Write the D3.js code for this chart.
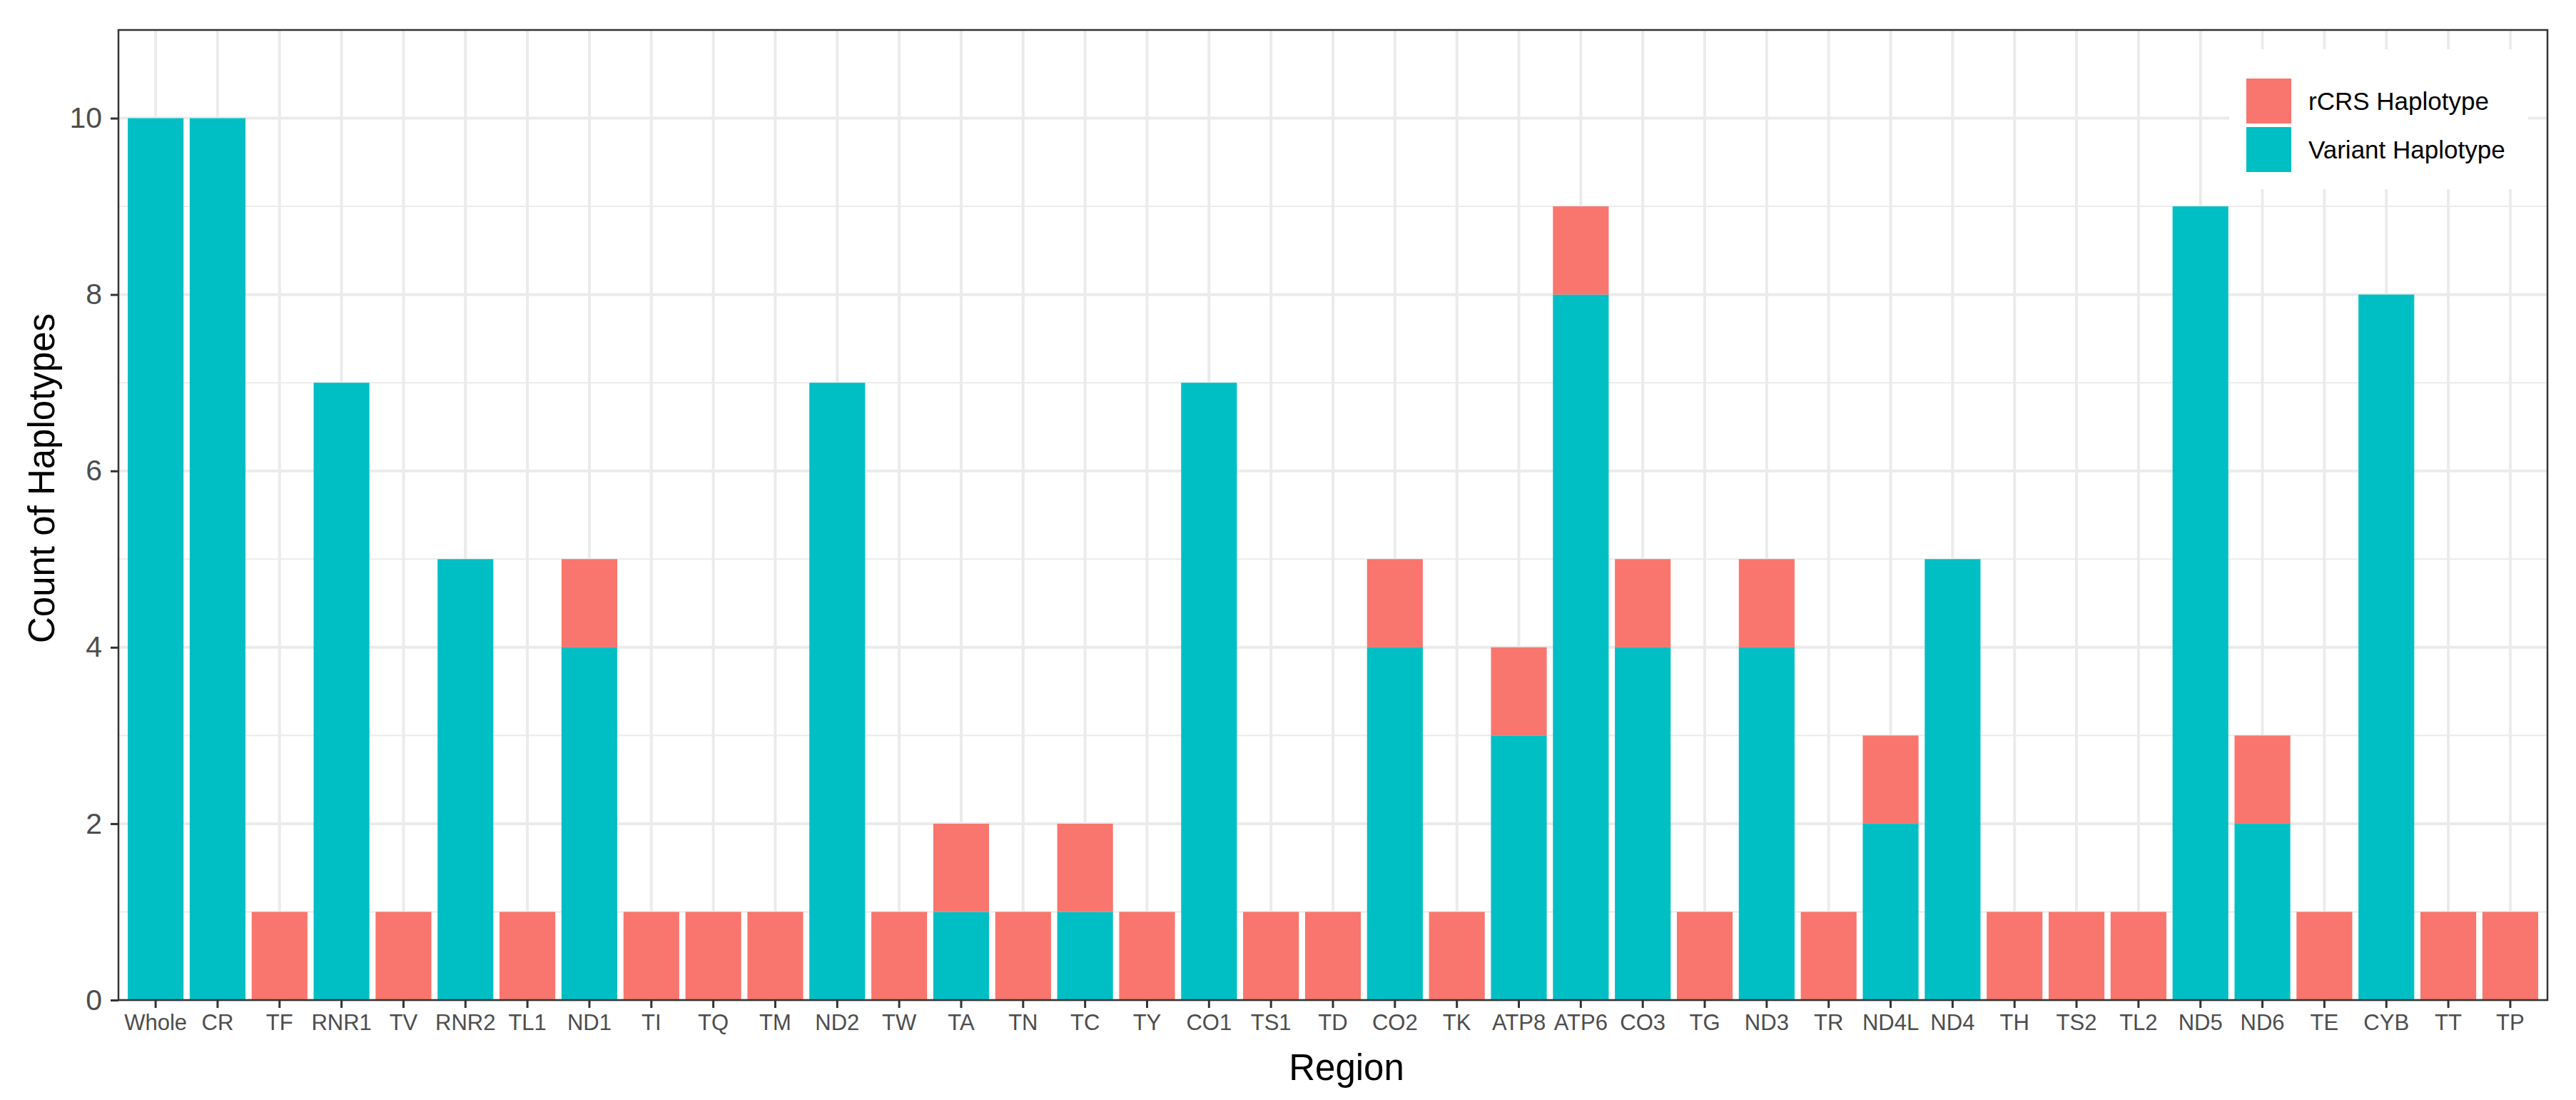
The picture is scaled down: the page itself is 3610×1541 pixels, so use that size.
<!DOCTYPE html>
<html>
<head>
<meta charset="utf-8">
<script src="https://cdn.jsdelivr.net/npm/d3@7"></script>
<style>
  html, body { margin: 0; padding: 0; background: #ffffff; }
  svg { display: block; font-family: "Liberation Sans", Arial, sans-serif; }
</style>
</head>
<body>
<svg id="chart" width="3610" height="1541"></svg>
<script>
const regions = ["Whole","CR","TF","RNR1","TV","RNR2","TL1","ND1","TI","TQ","TM","ND2","TW","TA","TN","TC","TY","CO1","TS1","TD","CO2","TK","ATP8","ATP6","CO3","TG","ND3","TR","ND4L","ND4","TH","TS2","TL2","ND5","ND6","TE","CYB","TT","TP"];
const variantCounts = [10,10,0,7,0,5,0,4,0,0,0,7,0,1,0,1,0,7,0,0,4,0,3,8,4,0,4,0,2,5,0,0,0,9,2,0,8,0,0];
const rcrsCounts    = [0,0,1,0,1,0,1,1,1,1,1,0,1,1,1,1,1,0,1,1,1,1,1,1,1,1,1,1,1,0,1,1,1,0,1,1,0,1,1];
const seriesKeys = ["variant","rcrs"];
const seriesLabels = {rcrs: "rCRS Haplotype", variant: "Variant Haplotype"};
const legendOrder = ["rcrs","variant"];
const seriesColors = {rcrs: "#F8766D", variant: "#00BFC4"};
const yMajorTicks = [0,2,4,6,8,10];
const yMinorTicks = [1,3,5,7,9];
const yTitle = "Count of Haplotypes";
const xTitle = "Region";

const svg = d3.select("#chart");
const panel = {left: 166, right: 3570, top: 42, bottom: 1401};

const x = d3.scaleBand().domain(regions).range([panel.left, panel.right])
  .paddingInner(0.1).paddingOuter(0.15);
const y = d3.scaleLinear().domain([0, 11]).range([panel.bottom, panel.top]);

const rows = regions.map((r, i) => ({region: r, variant: variantCounts[i], rcrs: rcrsCounts[i]}));
const stacked = d3.stack().keys(seriesKeys)(rows);

// panel background
svg.append("rect").attr("x", panel.left).attr("y", panel.top)
  .attr("width", panel.right - panel.left).attr("height", panel.bottom - panel.top)
  .attr("fill", "#ffffff");

const grid = svg.append("g");
grid.selectAll("line.minor").data(yMinorTicks).join("line")
  .attr("x1", panel.left).attr("x2", panel.right)
  .attr("y1", d => y(d)).attr("y2", d => y(d))
  .attr("stroke", "#EBEBEB").attr("stroke-width", 2);
grid.selectAll("line.majory").data(yMajorTicks).join("line")
  .attr("x1", panel.left).attr("x2", panel.right)
  .attr("y1", d => y(d)).attr("y2", d => y(d))
  .attr("stroke", "#EBEBEB").attr("stroke-width", 4);
grid.selectAll("line.majorx").data(regions).join("line")
  .attr("y1", panel.top).attr("y2", panel.bottom)
  .attr("x1", d => x(d) + x.bandwidth() / 2).attr("x2", d => x(d) + x.bandwidth() / 2)
  .attr("stroke", "#EBEBEB").attr("stroke-width", 4);

// bars
svg.append("g").selectAll("g").data(stacked).join("g")
  .attr("fill", d => seriesColors[d.key])
  .selectAll("rect").data(d => d.filter(p => p[1] > p[0])).join("rect")
  .attr("x", d => x(d.data.region))
  .attr("width", x.bandwidth())
  .attr("y", d => y(d[1]))
  .attr("height", d => y(d[0]) - y(d[1]));

// legend (inside panel)
const lg = svg.append("g");
lg.append("rect").attr("x", 3124).attr("y", 69).attr("width", 419).attr("height", 196).attr("fill", "#ffffff");
legendOrder.forEach((k, i) => {
  const ky = 110 + i * 68;
  lg.append("rect").attr("x", 3148).attr("y", ky).attr("width", 63).attr("height", 63)
    .attr("fill", seriesColors[k]);
  lg.append("text").attr("x", 3235).attr("y", ky + 31).attr("dy", "0.36em")
    .attr("font-size", 35).attr("fill", "#000000").text(seriesLabels[k]);
});

// panel border
svg.append("rect").attr("x", panel.left).attr("y", panel.top)
  .attr("width", panel.right - panel.left).attr("height", panel.bottom - panel.top)
  .attr("fill", "none").attr("stroke", "#333333").attr("stroke-width", 2.5);

// x axis
const xAxis = svg.append("g").attr("transform", `translate(0,${panel.bottom})`)
  .call(d3.axisBottom(x).tickSize(11).tickPadding(0));
xAxis.select(".domain").remove();
xAxis.selectAll(".tick line").attr("stroke", "#333333").attr("stroke-width", 3);
xAxis.selectAll(".tick text").attr("font-size", 31).attr("fill", "#4D4D4D")
  .attr("font-family", "Liberation Sans, Arial, sans-serif")
  .attr("dy", null).attr("y", 42);

// y axis
const yAxis = svg.append("g").attr("transform", `translate(${panel.left},0)`)
  .call(d3.axisLeft(y).tickValues(yMajorTicks).tickSize(11).tickPadding(12));
yAxis.select(".domain").remove();
yAxis.selectAll(".tick line").attr("stroke", "#333333").attr("stroke-width", 3);
yAxis.selectAll(".tick text").attr("font-size", 41).attr("fill", "#4D4D4D")
  .attr("font-family", "Liberation Sans, Arial, sans-serif");

// titles
svg.append("text").attr("x", 1887).attr("y", 1513)
  .attr("text-anchor", "middle").attr("font-size", 51).attr("fill", "#000000").text(xTitle);
svg.append("text").attr("transform", `translate(76,670) rotate(-90)`)
  .attr("text-anchor", "middle").attr("font-size", 51).attr("fill", "#000000").text(yTitle);
</script>
</body>
</html>
